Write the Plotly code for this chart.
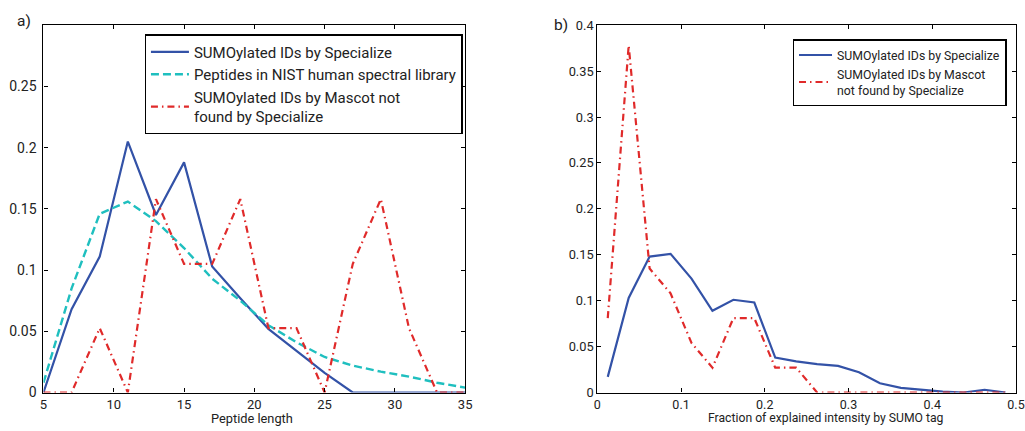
import plotly.graph_objects as go

# ---- Panel a) data ----
pep_len = [5, 7, 9, 11, 13, 15, 17, 19, 21, 23, 25, 27, 29, 31, 33, 35]
spec_a = [0.0, 0.068, 0.111, 0.205, 0.145, 0.188, 0.103, 0.077, 0.052, 0.034, 0.016, 0.0, 0.0, 0.0, 0.0, 0.0]
nist_a = [0.008, 0.085, 0.146, 0.156, 0.140, 0.118, 0.093, 0.075, 0.055, 0.041, 0.029, 0.022, 0.017, 0.013, 0.008, 0.004]
mascot_a = [0.0, 0.0, 0.0526, 0.0, 0.158, 0.105, 0.105, 0.158, 0.0526, 0.0526, 0.0, 0.105, 0.158, 0.0526, 0.0, 0.0]

# ---- Panel b) data ----
frac = [0.0125, 0.0375, 0.0625, 0.0875, 0.1125, 0.1375, 0.1625, 0.1875, 0.2125, 0.2375,
        0.2625, 0.2875, 0.3125, 0.3375, 0.3625, 0.3875, 0.4125, 0.4375, 0.4625, 0.4875]
spec_b = [0.017, 0.103, 0.148, 0.151, 0.124, 0.089, 0.101, 0.098, 0.038, 0.034,
          0.031, 0.029, 0.022, 0.010, 0.005, 0.003, 0.001, 0.0, 0.003, 0.0]
mascot_b = [0.081, 0.378, 0.135, 0.108, 0.054, 0.027, 0.081, 0.081, 0.027, 0.027,
            0.0, 0.0, 0.0, 0.0, 0.0, 0.0, 0.0, 0.0, 0.0, 0.0]

# tick labels
xa_ticks = [5, 10, 15, 20, 25, 30, 35]
ya_ticks = [0, 0.05, 0.1, 0.15, 0.2, 0.25]
ya_text = ["0", "0.05", "0.1", "0.15", "0.2", "0.25"]
xb_ticks = [0, 0.1, 0.2, 0.3, 0.4, 0.5]
xb_text = ["0", "0.1", "0.2", "0.3", "0.4", "0.5"]
yb_ticks = [0, 0.05, 0.1, 0.15, 0.2, 0.25, 0.3, 0.35, 0.4]
yb_text = ["0", "0.05", "0.1", "0.15", "0.2", "0.25", "0.3", "0.35", "0.4"]

BLUE = "#3352A7"
CYAN = "#1FBFBF"
RED = "#E02A2A"
FONT = "Roboto"
TXT = "#222"

W, H = 1025, 431
# the photographed page is slightly rescaled; map target picture pixels to layout pixels
SX, BX = 0.98875, 3.15
SY, BY = 0.9667, 6.67


def lx(p):
    return (p - BX) / SX


def ly(p):
    return (p - BY) / SY


def fx(p):
    return min(1.0, lx(p) / W)


def fy(p):
    return 1 - ly(p) / H


fig = go.Figure()

fig.add_trace(go.Scatter(x=pep_len, y=spec_a, mode="lines", name="SUMOylated IDs by Specialize",
                         line=dict(color=BLUE, width=2.2), xaxis="x", yaxis="y", legend="legend"))
fig.add_trace(go.Scatter(x=pep_len, y=nist_a, mode="lines", name="Peptides in NIST human spectral library",
                         line=dict(color=CYAN, width=2.4, dash="8px,4px"), xaxis="x", yaxis="y", legend="legend"))
fig.add_trace(go.Scatter(x=pep_len, y=mascot_a, mode="lines", name="SUMOylated IDs by Mascot not<br>found by Specialize",
                         line=dict(color=RED, width=2.2, dash="7px,4px,1.5px,4px"), xaxis="x", yaxis="y", legend="legend"))

fig.add_trace(go.Scatter(x=frac, y=spec_b, mode="lines", name="SUMOylated IDs by Specialize",
                         line=dict(color=BLUE, width=2.2), xaxis="x2", yaxis="y2", legend="legend2"))
fig.add_trace(go.Scatter(x=frac, y=mascot_b, mode="lines", name="SUMOylated IDs by Mascot<br>not found by Specialize",
                         line=dict(color=RED, width=2.2, dash="7px,4px,1.5px,4px"), xaxis="x2", yaxis="y2", legend="legend2"))


def ax(size, standoff=0):
    return dict(showline=True, linecolor="black", linewidth=1.3, mirror="ticks",
                ticks="inside", ticklen=4, tickcolor="black", showgrid=False, zeroline=False,
                ticklabelstandoff=standoff, ticklabeloverflow="allow",
                tickfont=dict(family=FONT, size=size, color=TXT))


ydom = [fy(392.7), fy(24)]

fig.update_layout(
    width=W, height=H, margin=dict(l=0, r=0, t=0, b=0),
    paper_bgcolor="white", plot_bgcolor="white",
    font=dict(family=FONT, color=TXT),
    xaxis=dict(domain=[fx(42.7), fx(465)], range=[5, 35], tickvals=xa_ticks, anchor="y", **ax(13, 0)),
    yaxis=dict(domain=ydom, range=[0, 0.3], tickvals=ya_ticks, ticktext=ya_text, anchor="x", **ax(14, 3)),
    xaxis2=dict(domain=[fx(597.3), fx(1019)], range=[0, 0.5], tickvals=xb_ticks, ticktext=xb_text,
                anchor="y2", **ax(12.5, 0)),
    yaxis2=dict(domain=ydom, range=[0, 0.4], tickvals=yb_ticks, ticktext=yb_text, anchor="x2", **ax(12.8, 0)),
    legend=dict(x=fx(144), y=fy(33), xanchor="left", yanchor="top", bgcolor="white",
                bordercolor="black", borderwidth=1.3, font=dict(family=FONT, size=15, color=TXT),
                tracegroupgap=0, itemwidth=38),
    legend2=dict(x=fx(793), y=fy(38), xanchor="left", yanchor="top", bgcolor="white",
                 bordercolor="black", borderwidth=1.3, font=dict(family=FONT, size=12.3, color=TXT),
                 tracegroupgap=0, itemwidth=33),
    annotations=[
        dict(text="a)", x=fx(14), y=fy(20), xref="paper", yref="paper", showarrow=False,
             xanchor="left", yanchor="middle", font=dict(family=FONT, size=15.5, color=TXT)),
        dict(text="b)", x=fx(552), y=fy(24), xref="paper", yref="paper", showarrow=False,
             xanchor="left", yanchor="middle", font=dict(family=FONT, size=15.5, color=TXT)),
        dict(text="Peptide length", x=fx(252), y=fy(418.8), xref="paper", yref="paper", showarrow=False,
             xanchor="center", yanchor="middle", font=dict(family=FONT, size=12.8, color=TXT)),
        dict(text="Fraction of explained intensity by SUMO tag", x=fx(826), y=fy(418.5), xref="paper",
             yref="paper", showarrow=False, xanchor="center", yanchor="middle",
             font=dict(family=FONT, size=12.2, color=TXT)),
    ],
)

fig.write_html("out.html")
